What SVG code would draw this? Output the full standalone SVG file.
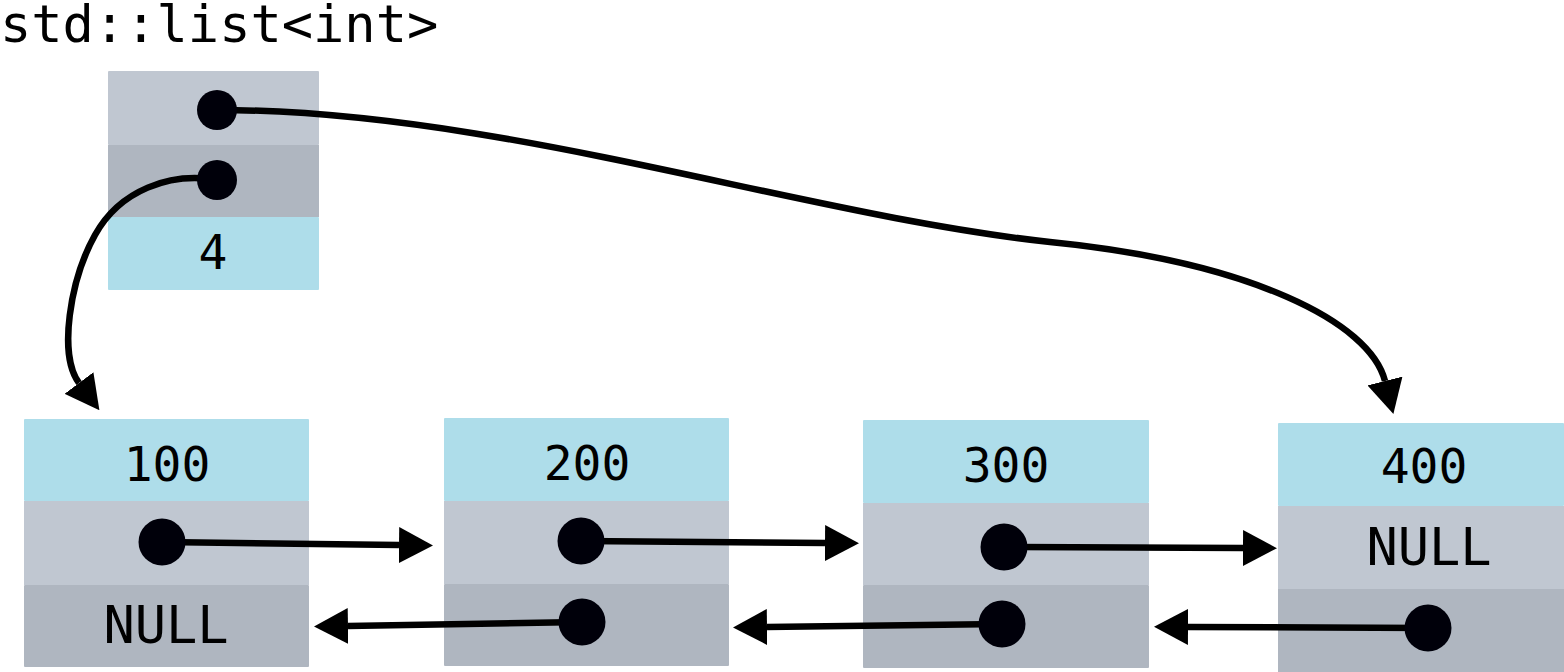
<svg xmlns="http://www.w3.org/2000/svg" width="1564" height="672" viewBox="0 0 1564 672">
<style>
.val{fill:#AEDDEA}
.p1{fill:#C0C7D1}
.p2{fill:#AFB6C0}
.t{font-family:"DejaVu Sans Mono","Liberation Mono",monospace;fill:#000;text-anchor:middle}
.num{font-size:48px}
.nul{font-size:52px}
.dot{fill:#00000a}
.ln{fill:none;stroke:#000;stroke-width:6.5}
</style>
<defs>
<marker id="ah" markerUnits="userSpaceOnUse" viewBox="0 0 34 36" markerWidth="34" markerHeight="36" refX="0" refY="18" orient="auto">
<path d="M0,0 L34,18 L0,36 z" fill="#000"/>
</marker>
</defs>
<rect width="1564" height="672" fill="#fff"/>
<text class="t" x="0" y="42" style="font-size:52px;text-anchor:start">std::list&lt;int&gt;</text>

<g id="list">
<rect class="p1" x="108" y="71" width="211" height="74" rx="1"/>
<rect class="p2" x="108" y="145" width="211" height="72"/>
<rect class="val" x="108" y="217" width="211" height="73" rx="1"/>
<text class="t num" x="213" y="269">4</text>
</g>

<g id="node100">
<rect class="val" x="24" y="419" width="285" height="82" rx="1"/>
<rect class="p1" x="24" y="501" width="285" height="84"/>
<rect class="p2" x="24" y="585" width="285" height="82" rx="1"/>
<text class="t num" x="167" y="481">100</text>
<text class="t nul" x="166" y="643">NULL</text>
</g>

<g id="node200">
<rect class="val" x="444" y="418" width="285" height="83" rx="1"/>
<rect class="p1" x="444" y="501" width="285" height="83"/>
<rect class="p2" x="444" y="584" width="285" height="82" rx="1"/>
<text class="t num" x="587" y="480">200</text>
</g>

<g id="node300">
<rect class="val" x="863" y="420" width="286" height="83" rx="1"/>
<rect class="p1" x="863" y="503" width="286" height="82"/>
<rect class="p2" x="863" y="585" width="286" height="83" rx="1"/>
<text class="t num" x="1006" y="482">300</text>
</g>

<g id="node400">
<rect class="val" x="1278" y="423" width="286" height="83" rx="1"/>
<rect class="p1" x="1278" y="506" width="286" height="83"/>
<rect class="p2" x="1278" y="589" width="286" height="83"/>
<text class="t num" x="1424" y="483">400</text>
<text class="t nul" x="1429" y="565">NULL</text>
</g>

<g id="connectors">
<path class="ln" d="M217,110 C500,110 800,215 1050,242 C1250,262 1370,322 1385,381" marker-end="url(#ah)"/>
<path class="ln" d="M217,180 C170,172 120,190 95,235 C70,280 58,355 79,383" marker-end="url(#ah)"/>
<path class="ln" d="M162,542 L399,545" marker-end="url(#ah)"/>
<path class="ln" d="M581,541 L825,543" marker-end="url(#ah)"/>
<path class="ln" d="M1004,547 L1243,548" marker-end="url(#ah)"/>
<path class="ln" d="M582,622 L348,626" marker-end="url(#ah)"/>
<path class="ln" d="M1002,624 L767,627" marker-end="url(#ah)"/>
<path class="ln" d="M1428,628 L1188,627" marker-end="url(#ah)"/>
<circle class="dot" cx="217" cy="110" r="20"/>
<circle class="dot" cx="217" cy="180" r="20"/>
<circle class="dot" cx="162" cy="542" r="23.5"/>
<circle class="dot" cx="581" cy="541" r="23.5"/>
<circle class="dot" cx="582" cy="622" r="23.5"/>
<circle class="dot" cx="1004" cy="547" r="23.5"/>
<circle class="dot" cx="1002" cy="624" r="23.5"/>
<circle class="dot" cx="1428" cy="628" r="23.5"/>
</g>
</svg>
